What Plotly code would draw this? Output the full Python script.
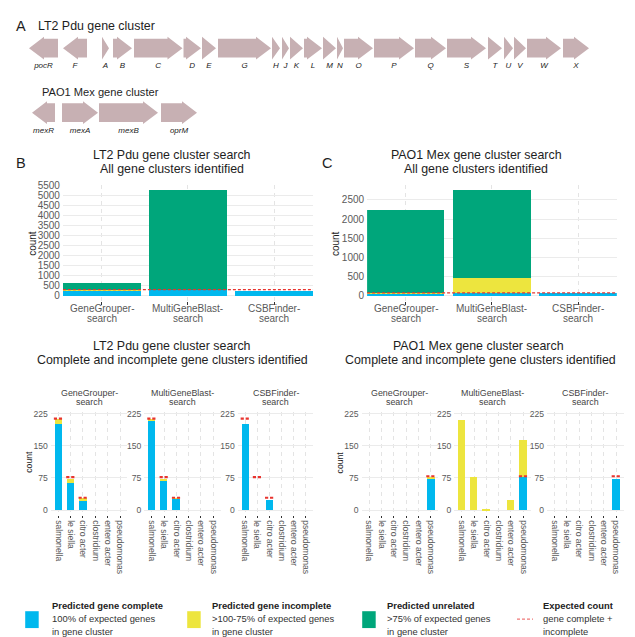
import plotly.graph_objects as go

W, H = 635, 637
FONT = "Liberation Sans, Arial, sans-serif"

# ---------------- gene maps (positions in bp) ----------------
pdu_genes = ["pocR", "F", "A", "B", "C", "D", "E", "G", "H", "J", "K", "L",
             "M", "N", "O", "P", "Q", "S", "T", "U", "V", "W", "X"]
pdu_start = [0, 1360, 2920, 3360, 4200, 6180, 6920, 7560, 9720, 10120, 10440, 11000,
             11760, 12320, 12600, 13800, 15440, 16720, 18360, 19000, 19400, 19920, 21360]
pdu_end = [1160, 2320, 3200, 4120, 6140, 6880, 7480, 9680, 10040, 10400, 10960, 11720,
           12280, 12560, 13760, 15400, 16680, 18280, 18920, 19360, 19880, 21280, 22400]
pdu_strand = [-1, -1, 1, 1, 1, 1, 1, 1, 1, 1, 1, 1, 1, 1, 1, 1, 1, 1, 1, 1, 1, 1, 1]

mex_genes = ["mexR", "mexA", "mexB", "oprM"]
mex_start = [120, 1320, 2800, 5280]
mex_end = [1040, 2760, 5160, 6720]
mex_strand = [-1, 1, 1, 1]

# ---------------- search results ----------------
tools = ["GeneGrouper-search", "MultiGeneBlast-search", "CSBFinder-search"]
species = ["salmonella", "le siella", "citro acter", "clostridium", "entero acter", "pseudomonas"]

lt2_gg_complete = [200, 65, 24, 0, 0, 0]
lt2_gg_incomplete = [12, 9, 4, 0, 0, 0]
lt2_mgb_complete = [210, 69, 27, 0, 0, 0]
lt2_mgb_incomplete = [1, 5, 1, 0, 0, 0]
lt2_csb_complete = [202, 0, 24, 0, 0, 0]
lt2_csb_incomplete = [0, 0, 0, 0, 0, 0]
lt2_expected = [213, 77, 29, 0, 0, 0]
lt2_unrelated = [350, 4935, 0]

pao1_gg_complete = [0, 0, 0, 0, 0, 73]
pao1_gg_incomplete = [0, 0, 0, 0, 0, 5]
pao1_mgb_complete = [0, 0, 0, 0, 0, 77]
pao1_mgb_incomplete = [211, 77, 2, 0, 24, 88]
pao1_csb_complete = [0, 0, 0, 0, 0, 73]
pao1_csb_incomplete = [0, 0, 0, 0, 0, 0]
pao1_expected = [0, 0, 0, 0, 0, 79]
pao1_unrelated = [2150, 2270, 0]

C_COMPLETE = "#00B8EE"
C_INCOMPLETE = "#EDE53E"
C_UNRELATED = "#00A67B"
C_EXPECTED = "#E8342F"
C_GENE = "#C7B0B3"
GRID = "#EBEBEB"
TICK = "#5A5A5A"
TXT = "#1E1E1E"


def xd(a, b):
    return [a / W, b / W]


def yd(top, bottom):
    return [1 - bottom / H, 1 - top / H]


fig = go.Figure()
annotations = []
shapes = []


def text(x, y, s, size, color=TXT, xanchor="center", angle=0, xref="paper"):
    annotations.append(dict(
        x=x / W if xref == "paper" else x, y=1 - y / H, xref=xref, yref="paper",
        text=s, showarrow=False, xanchor=xanchor, yanchor="middle", textangle=angle,
        font=dict(family=FONT, size=size, color=color)))


# ---------------- A: gene arrows ----------------
HEAD_BP = 600
HEAD_H, BODY_H = 0.177, 0.146


def arrow_polys(starts, ends, strands, track):
    xs, ys = [], []
    for s, e, d in zip(starts, ends, strands):
        hl = min(HEAD_BP, e - s)
        if d > 0:
            b = e - hl
            pts = [(s, -BODY_H), (b, -BODY_H), (b, -HEAD_H), (e, 0), (b, HEAD_H), (b, BODY_H), (s, BODY_H), (s, -BODY_H)]
        else:
            b = s + hl
            pts = [(e, -BODY_H), (b, -BODY_H), (b, -HEAD_H), (s, 0), (b, HEAD_H), (b, BODY_H), (e, BODY_H), (e, -BODY_H)]
        for px, py in pts:
            xs.append(px)
            ys.append(track + py)
        xs.append(None)
        ys.append(None)
    return xs, ys


for names, st, en, sd, track in [(pdu_genes, pdu_start, pdu_end, pdu_strand, 0),
                                  (mex_genes, mex_start, mex_end, mex_strand, 1)]:
    gx, gy = arrow_polys(st, en, sd, track)
    fig.add_trace(go.Scatter(x=gx, y=gy, fill="toself", fillcolor=C_GENE, mode="lines",
                             line=dict(width=0, color=C_GENE), xaxis="x", yaxis="y",
                             hoverinfo="skip", showlegend=False))
    fig.add_trace(go.Scatter(x=[(a + b) / 2 for a, b in zip(st, en)], y=[track + 0.28] * len(names),
                             mode="text", text=["<i>%s</i>" % n for n in names],
                             textfont=dict(family=FONT, size=8, color="#222"),
                             xaxis="x", yaxis="y", hoverinfo="skip", showlegend=False))

text(20.5, 21, "A", 14.5)
text(36, 21, "LT2 Pdu gene cluster", 12.4, xanchor="left")
text(40, 88, "PAO1 Mex gene cluster", 11.1, xanchor="left")

# ---------------- B / C: all gene clusters ----------------
top_specs = [
    ("x2", "y2", (62.9, 313.0), [lt2_gg_complete, lt2_mgb_complete, lt2_csb_complete],
     [lt2_gg_incomplete, lt2_mgb_incomplete, lt2_csb_incomplete], lt2_unrelated, lt2_expected,
     "B", 20.5, ["LT2 Pdu gene cluster search", "All gene clusters identified"], 172, 31.7, 500),
    ("x3", "y3", (367.1, 616.8), [pao1_gg_complete, pao1_mgb_complete, pao1_csb_complete],
     [pao1_gg_incomplete, pao1_mgb_incomplete, pao1_csb_incomplete], pao1_unrelated, pao1_expected,
     "C", 327, ["PAO1 Mex gene cluster search", "All gene clusters identified"], 476.5, 335, 500),
]

layout_axes = {}
for xa, ya, (xl, xr), comp, inc, unrel, expct, lab, labx, ttl, tx, cx, dtick in top_specs:
    comp_tot = [sum(c) for c in comp]
    inc_tot = [sum(c) for c in inc]
    totals = [a + b + c for a, b, c in zip(comp_tot, inc_tot, unrel)]
    ymax = max(totals)
    pos = [1, 2, 3]
    for vals, col in [(comp_tot, C_COMPLETE), (inc_tot, C_INCOMPLETE), (unrel, C_UNRELATED)]:
        fig.add_trace(go.Bar(x=pos, y=vals, width=0.9, marker=dict(color=col, line=dict(width=0)),
                             xaxis=xa, yaxis=ya, showlegend=False, hoverinfo="skip"))
    exp_tot = sum(expct)
    fig.add_trace(go.Scatter(x=[0.55, 3.45], y=[exp_tot, exp_tot], mode="lines",
                             line=dict(color=C_EXPECTED, width=1.2, dash="3px,2px"),
                             xaxis=xa, yaxis=ya, showlegend=False, hoverinfo="skip"))
    layout_axes["xaxis" + xa[1:]] = dict(
        domain=xd(xl, xr), range=[0.55, 3.45], anchor=ya, tickvals=pos, showticklabels=False,
        ticks="outside", ticklen=2.5, tickwidth=0.6, tickcolor="#333",
        showgrid=True, gridcolor="#E4E4E4", gridwidth=1, griddash="4px,4px", zeroline=False, showline=False)
    layout_axes["yaxis" + ya[1:]] = dict(
        domain=yd(181.5, 298.6), range=[-0.05 * ymax, 1.05 * ymax], anchor=xa, dtick=dtick, tick0=0,
        showgrid=True, gridcolor=GRID, gridwidth=1, zeroline=False, showline=False, ticks="",
        tickfont=dict(family=FONT, size=10, color=TICK), ticklabelstandoff=2)
    for i, t in enumerate(tools):
        a, b = t.split("-")
        annotations.append(dict(x=pos[i], y=1 - 305.7 / H, xref=xa, yref="paper", text=a + "-",
                                showarrow=False, font=dict(family=FONT, size=10, color=TICK)))
        annotations.append(dict(x=pos[i], y=1 - 316.0 / H, xref=xa, yref="paper", text=b,
                                showarrow=False, font=dict(family=FONT, size=10, color=TICK)))
    text(labx, 159, lab, 14.5)
    text(tx, 151, ttl[0], 12.4)
    text(tx, 165, ttl[1], 12.4)
    text(cx, 240, "count", 10, angle=-90)

# ---------------- bottom: complete / incomplete per genus ----------------
facet_specs = [
    ((50.9, 127.4), lt2_gg_complete, lt2_gg_incomplete, lt2_expected, 0),
    ((144.3, 220.7), lt2_mgb_complete, lt2_mgb_incomplete, lt2_expected, 1),
    ((237.7, 313.3), lt2_csb_complete, lt2_csb_incomplete, lt2_expected, 2),
    ((361.6, 438.1), pao1_gg_complete, pao1_gg_incomplete, pao1_expected, 0),
    ((454.3, 530.7), pao1_mgb_complete, pao1_mgb_incomplete, pao1_expected, 1),
    ((547.0, 623.5), pao1_csb_complete, pao1_csb_incomplete, pao1_expected, 2),
]
sp_pos = list(range(1, len(species) + 1))
for k, ((xl, xr), comp, inc, expct, ti) in enumerate(facet_specs):
    n = k + 4
    xa, ya = "x%d" % n, "y%d" % n
    for vals, col in [(comp, C_COMPLETE), (inc, C_INCOMPLETE)]:
        fig.add_trace(go.Bar(x=sp_pos, y=vals, width=0.6, marker=dict(color=col, line=dict(width=0)),
                             xaxis=xa, yaxis=ya, showlegend=False, hoverinfo="skip"))
    ex, ey = [], []
    for p, v in zip(sp_pos, expct):
        if v > 0:
            ex += [p - 0.36, p + 0.32, None]
            ey += [v, v, None]
    fig.add_trace(go.Scatter(x=ex, y=ey, mode="lines", line=dict(color=C_EXPECTED, width=2.2, dash="3.2px,1.8px"),
                             xaxis=xa, yaxis=ya, showlegend=False, hoverinfo="skip"))
    layout_axes["xaxis%d" % n] = dict(
        domain=xd(xl, xr), range=[0.4, 6.6], anchor=ya, tickvals=sp_pos, ticktext=species,
        tickangle=90, ticks="outside", ticklen=2.5, tickwidth=0.6, tickcolor="#333",
        tickfont=dict(family=FONT, size=8.6, color=TICK),
        showgrid=True, gridcolor="#E4E4E4", gridwidth=1, griddash="4px,4px", zeroline=False, showline=False)
    layout_axes["yaxis%d" % n] = dict(
        domain=yd(410, 514), range=[-11, 229], anchor=xa, tickvals=[0, 75, 150, 225],
        showgrid=True, gridcolor=GRID, gridwidth=1, zeroline=False, showline=False, ticks="",
        tickfont=dict(family=FONT, size=8.6, color=TICK), ticklabelstandoff=2)
    a, b = tools[ti].split("-")
    cxm = (xl + xr) / 2
    text(cxm, 390.7, a + "-", 8.9, color="#444")
    text(cxm, 400.3, b, 8.9, color="#444")

text(29.3, 460, "count", 8.6, angle=-90)
text(340, 461, "count", 8.6, angle=-90)
text(172, 344, "LT2 Pdu gene cluster search", 12.4)
text(172, 358.3, "Complete and incomplete gene clusters identified", 12.4)
text(478, 344, "PAO1 Mex gene cluster search", 12.4)
text(480.5, 358.3, "Complete and incomplete gene clusters identified", 12.4)

# ---------------- legend ----------------
leg_items = [
    (C_COMPLETE, 25.2, 49.7, ["Predicted gene complete", "100% of expected genes", "in gene cluster"]),
    (C_INCOMPLETE, 187.2, 210.0, ["Predicted gene incomplete", ">100-75% of expected genes", "in gene cluster"]),
    (C_UNRELATED, 362.2, 384.6, ["Predicted unrelated", ">75% of expected genes", "in gene cluster"]),
    (None, 517.0, 540.5, ["Expected count", "gene complete +", "incomplete"]),
]
for col, kx, tx, lines in leg_items:
    if col:
        shapes.append(dict(type="rect", xref="paper", yref="paper", x0=kx / W, x1=(kx + 13.5) / W,
                           y0=1 - 628 / H, y1=1 - 611 / H, fillcolor=col, line=dict(width=0)))
    else:
        shapes.append(dict(type="line", xref="paper", yref="paper", x0=kx / W, x1=(kx + 16) / W,
                           y0=1 - 619 / H, y1=1 - 619 / H,
                           line=dict(color="#F07878", width=1.2, dash="3px,2px")))
    text(tx, 605, "<b>%s</b>" % lines[0], 9.4, color="#222", xanchor="left")
    text(tx, 618.5, lines[1], 9.4, color="#333", xanchor="left")
    text(tx, 631.5, lines[2], 9.4, color="#333", xanchor="left")

# gene map axes
layout_axes["xaxis"] = dict(domain=[0, 1], range=[-1160, 24240], visible=False, anchor="y")
layout_axes["yaxis"] = dict(domain=yd(0, 150), range=[1.638, -0.669], visible=False, anchor="x")

fig.update_layout(
    width=W, height=H, margin=dict(l=0, r=0, t=0, b=0),
    paper_bgcolor="white", plot_bgcolor="white", barmode="stack", bargap=0,
    showlegend=False, annotations=annotations, shapes=shapes,
    font=dict(family=FONT, color=TXT),
    **layout_axes,
)

fig.write_html("out.html")
